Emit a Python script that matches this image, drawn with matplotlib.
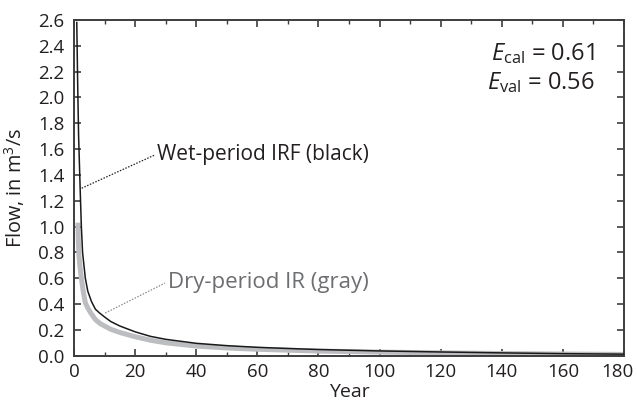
import matplotlib
matplotlib.use("Agg")
import matplotlib.pyplot as plt
import matplotlib.transforms as mtransforms
from matplotlib.ticker import MultipleLocator

plt.rcParams['font.family'] = ['Open Sans', 'DejaVu Sans']
plt.rcParams['mathtext.fontset'] = 'custom'
plt.rcParams['mathtext.rm'] = 'Open Sans'
plt.rcParams['mathtext.it'] = 'Open Sans:italic'

# wet-period impulse response (black)
wet_year = [0.9, 1.2, 1.5, 2.0, 2.4, 2.8, 3.7, 4.5, 5.7, 7, 8.4, 10, 12, 15, 20, 25, 30,
            40, 50, 60, 70, 80, 100, 120, 140, 160, 180]
wet_flow = [2.58, 2.1, 1.7, 1.3, 1.0, 0.8, 0.6, 0.5, 0.42, 0.36, 0.33, 0.30, 0.265, 0.23,
            0.185, 0.15, 0.127, 0.096, 0.078, 0.065, 0.056, 0.048, 0.037, 0.029, 0.022,
            0.016, 0.012]

# dry-period impulse response (gray)
dry_year = [1.3, 1.4, 1.6, 2.0, 2.4, 3.0, 3.7, 4.5, 5.5, 7, 8.5, 10, 12, 15, 20, 25, 30,
            40, 50, 60, 70, 80, 100, 120, 140, 160, 180]
dry_flow = [1.03, 0.9, 0.78, 0.68, 0.6, 0.5, 0.41, 0.37, 0.33, 0.28, 0.25, 0.23, 0.205,
            0.18, 0.147, 0.12, 0.1, 0.075, 0.06, 0.05, 0.043, 0.036, 0.028, 0.022, 0.017,
            0.013, 0.01]

x_ticks = [0, 20, 40, 60, 80, 100, 120, 140, 160, 180]

e_cal = 0.61
e_val = 0.56

frame = '#3d3d3d'
txt = '#231f20'

fig = plt.figure(figsize=(6.37, 4.07), dpi=100)
ax = fig.add_axes([0.1162, 0.126, 0.8634, 0.825])

ax.plot(dry_year, dry_flow, color='#bcbdc0', lw=3.6, solid_capstyle='butt', zorder=2)
ax.plot(wet_year, wet_flow, color='#1a1a1a', lw=1.1, zorder=3)

ax.set_xlim(0, 180)
ax.set_ylim(0, 2.6)
ax.set_xticks(x_ticks, [str(t) for t in x_ticks])
ax.xaxis.set_minor_locator(MultipleLocator(10))
ax.yaxis.set_major_locator(MultipleLocator(0.2))
ax.yaxis.set_major_formatter(plt.FuncFormatter(lambda v, p: '%.1f' % v))
ax.tick_params(which='both', direction='in', top=True, right=True, color=frame,
               labelsize=13.5, labelcolor=txt)
ax.tick_params(axis='x', pad=5)
ax.tick_params(axis='y', pad=7)
ax.tick_params(which='major', length=5, width=1.2)
ax.tick_params(which='minor', length=3, width=1.0)
for s in ax.spines.values():
    s.set_color(frame)
    s.set_linewidth(1.4)

# last x label sits a little left so it stays inside the figure
last = ax.get_xticklabels()[-1]
last.set_transform(last.get_transform() +
                   mtransforms.ScaledTranslation(-7 / 100, 0, fig.dpi_scale_trans))

ax.set_xlabel('Year', fontsize=14, color=txt)
ax.set_ylabel('Flow, in m$^3$/s', fontsize=14.3, color=txt)
ax.xaxis.set_label_coords(0.5, -0.08)
ax.yaxis.set_label_coords(-0.085, 0.5)

# labels with dotted leaders
ax.plot([2.5, 26.5], [1.297, 1.555], ls=(0, (1.2, 1.2)), color=txt, lw=0.9)
ax.text(27.0, 1.555, 'Wet-period IRF (black)', fontsize=15, color=txt, va='center')
ax.plot([10.2, 29.8], [0.33, 0.563], ls=(0, (1.2, 1.2)), color='#8a8b8e', lw=0.9)
ax.text(30.6, 0.57, 'Dry-period IR (gray)', fontsize=16, color='#6d6e71', va='center')

ax.text(0.947, 0.90, r'$E_{\mathrm{cal}}$ = %.2f' % e_cal, transform=ax.transAxes,
        fontsize=17, color=txt, ha='right', va='center')
ax.text(0.947, 0.812, r'$E_{\mathrm{val}}$ = %.2f' % e_val, transform=ax.transAxes,
        fontsize=17, color=txt, ha='right', va='center')

fig.savefig('out.png', dpi=100)
